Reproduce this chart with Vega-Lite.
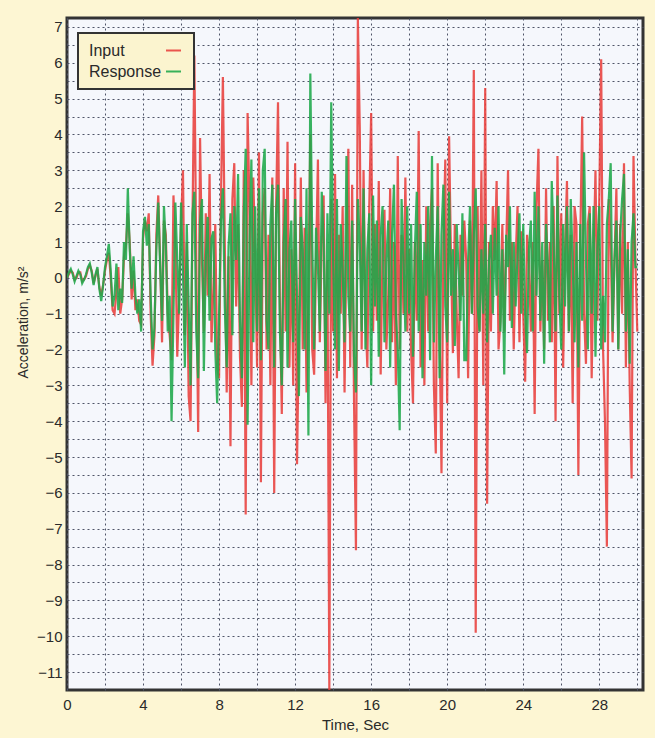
{
 "$schema": "https://vega.github.io/schema/vega-lite/v6.json",
 "width": 576,
 "height": 672,
 "autosize": {"type": "none"},
 "padding": {"left": 67, "top": 18, "right": 12, "bottom": 48},
 "background": "#fdf6d3",
 "config": {"view": {"fill": "#f5f7fc", "stroke": "#333333", "strokeWidth": 3}, "font": "Liberation Sans", "legend": {"strokeWidth": 2}},
 "data": {"values": [
{"t":0.0,"Input":0,"Response":0},{"t":0.1,"Input":0.1,"Response":0.15},{"t":0.2,"Input":0.2,"Response":0.25},{"t":0.3,"Input":0.15,"Response":0.1},{"t":0.4,"Input":-0.05,"Response":-0.1},{"t":0.5,"Input":0,"Response":0.05},{"t":0.6,"Input":0.15,"Response":0.2},{"t":0.7,"Input":0.15,"Response":0.1},{"t":0.8,"Input":-0.1,"Response":-0.15},{"t":0.9,"Input":-0.05,"Response":-0.05},
{"t":1.0,"Input":0.05,"Response":0.1},{"t":1.1,"Input":0.25,"Response":0.3},{"t":1.2,"Input":0.35,"Response":0.4},{"t":1.3,"Input":0.2,"Response":0.15},{"t":1.4,"Input":-0.15,"Response":-0.2},{"t":1.5,"Input":0.05,"Response":0.1},{"t":1.6,"Input":0.25,"Response":0.3},{"t":1.7,"Input":-0.25,"Response":-0.3},{"t":1.8,"Input":-0.5,"Response":-0.65},{"t":1.9,"Input":-0.2,"Response":-0.2},
{"t":2.0,"Input":0.2,"Response":0.3},{"t":2.1,"Input":0.5,"Response":0.6},{"t":2.2,"Input":0.7,"Response":0.95},{"t":2.3,"Input":0,"Response":0.2},{"t":2.4,"Input":-0.9,"Response":-0.8},{"t":2.5,"Input":-1.0,"Response":-0.5},{"t":2.6,"Input":-0.4,"Response":0.4},{"t":2.7,"Input":0.3,"Response":-0.9},{"t":2.8,"Input":-1.0,"Response":-0.3},{"t":2.9,"Input":-0.6,"Response":-0.7},
{"t":3.0,"Input":0.6,"Response":1.0},{"t":3.1,"Input":0.9,"Response":0.5},{"t":3.2,"Input":1.8,"Response":2.5},{"t":3.3,"Input":1.0,"Response":0.8},{"t":3.4,"Input":-0.6,"Response":-0.3},{"t":3.5,"Input":0.2,"Response":0.6},{"t":3.6,"Input":-0.9,"Response":-0.5},{"t":3.7,"Input":-0.6,"Response":-1.0},{"t":3.8,"Input":-1.2,"Response":-0.6},{"t":3.9,"Input":-1.3,"Response":-1.5},
{"t":4.0,"Input":1.1,"Response":1.3},{"t":4.1,"Input":1.6,"Response":1.7},{"t":4.2,"Input":1.3,"Response":0.9},{"t":4.3,"Input":1.8,"Response":1.5},{"t":4.4,"Input":-1.0,"Response":-0.5},{"t":4.5,"Input":-2.45,"Response":-2.0},{"t":4.6,"Input":-1.6,"Response":-1.4},{"t":4.7,"Input":1.2,"Response":0.8},{"t":4.8,"Input":2.3,"Response":2.1},{"t":4.9,"Input":0.5,"Response":0.3},
{"t":5.0,"Input":-1.8,"Response":-1.2},{"t":5.1,"Input":1.6,"Response":2.0},{"t":5.2,"Input":1.2,"Response":0.9},{"t":5.3,"Input":-1.0,"Response":-1.5},{"t":5.4,"Input":-1.6,"Response":-0.5},{"t":5.5,"Input":-2.3,"Response":-4.0},{"t":5.6,"Input":2.3,"Response":-1.0},{"t":5.7,"Input":1.0,"Response":2.1},{"t":5.8,"Input":-2.2,"Response":0.5},{"t":5.9,"Input":-0.5,"Response":-1.0},
{"t":6.0,"Input":1.5,"Response":2.1},{"t":6.1,"Input":3.0,"Response":0.2},{"t":6.2,"Input":-1.6,"Response":-2.5},{"t":6.3,"Input":1.0,"Response":1.5},{"t":6.4,"Input":-3.3,"Response":-0.8},{"t":6.5,"Input":-4.0,"Response":-3.0},{"t":6.6,"Input":1.5,"Response":1.8},{"t":6.7,"Input":6.2,"Response":2.4},{"t":6.8,"Input":0.5,"Response":-1.5},{"t":6.9,"Input":-4.3,"Response":-2.8},
{"t":7.0,"Input":3.9,"Response":1.6},{"t":7.1,"Input":0.5,"Response":2.2},{"t":7.2,"Input":-1.5,"Response":-2.6},{"t":7.3,"Input":1.8,"Response":0.5},{"t":7.4,"Input":-0.5,"Response":1.7},{"t":7.5,"Input":2.9,"Response":-1.2},{"t":7.6,"Input":-1.8,"Response":1.1},{"t":7.7,"Input":-0.3,"Response":1.3},{"t":7.8,"Input":1.5,"Response":-2.0},{"t":7.9,"Input":-2.5,"Response":-3.5},
{"t":8.0,"Input":-2.8,"Response":-1.0},{"t":8.1,"Input":2.2,"Response":1.6},{"t":8.2,"Input":5.6,"Response":2.5},{"t":8.3,"Input":1.0,"Response":-0.8},{"t":8.4,"Input":-3.2,"Response":-2.5},{"t":8.5,"Input":0.6,"Response":0.9},{"t":8.6,"Input":-4.7,"Response":1.8},{"t":8.7,"Input":2.2,"Response":-1.6},{"t":8.8,"Input":3.2,"Response":2.0},{"t":8.9,"Input":-0.8,"Response":0.5},
{"t":9.0,"Input":1.5,"Response":2.9},{"t":9.1,"Input":-2.2,"Response":-1.2},{"t":9.2,"Input":-3.6,"Response":-2.8},{"t":9.3,"Input":3.0,"Response":1.8},{"t":9.4,"Input":-6.6,"Response":3.6},{"t":9.5,"Input":4.6,"Response":-4.1},{"t":9.6,"Input":2.0,"Response":1.0},{"t":9.7,"Input":-3.0,"Response":3.3},{"t":9.8,"Input":2.8,"Response":-1.8},{"t":9.9,"Input":0.5,"Response":2.0},
{"t":10.0,"Input":-2.5,"Response":-1.5},{"t":10.1,"Input":3.5,"Response":2.5},{"t":10.2,"Input":-5.7,"Response":-2.3},{"t":10.3,"Input":1.8,"Response":3.0},{"t":10.4,"Input":2.5,"Response":3.6},{"t":10.5,"Input":-2.0,"Response":-1.2},{"t":10.6,"Input":1.2,"Response":-2.0},{"t":10.7,"Input":-3.0,"Response":1.5},{"t":10.8,"Input":2.8,"Response":2.6},{"t":10.9,"Input":-6.0,"Response":-2.5},
{"t":11.0,"Input":2.0,"Response":1.8},{"t":11.1,"Input":4.9,"Response":2.6},{"t":11.2,"Input":-0.8,"Response":-1.5},{"t":11.3,"Input":-3.8,"Response":-3.0},{"t":11.4,"Input":2.5,"Response":1.0},{"t":11.5,"Input":-1.5,"Response":2.2},{"t":11.6,"Input":3.8,"Response":-2.5},{"t":11.7,"Input":-2.5,"Response":0.8},{"t":11.8,"Input":0.8,"Response":1.6},{"t":11.9,"Input":-3.0,"Response":-1.8},
{"t":12.0,"Input":3.2,"Response":2.2},{"t":12.1,"Input":-5.2,"Response":-0.5},{"t":12.2,"Input":-1.5,"Response":-3.3},{"t":12.3,"Input":2.8,"Response":1.7},{"t":12.4,"Input":-2.0,"Response":0.8},{"t":12.5,"Input":1.4,"Response":-2.0},{"t":12.6,"Input":-3.2,"Response":2.5},{"t":12.7,"Input":-0.5,"Response":-4.4},{"t":12.8,"Input":4.0,"Response":5.7},{"t":12.9,"Input":-2.0,"Response":1.0},
{"t":13.0,"Input":-2.7,"Response":-2.0},{"t":13.1,"Input":0.5,"Response":1.4},{"t":13.2,"Input":3.3,"Response":0.3},{"t":13.3,"Input":-1.8,"Response":-1.5},{"t":13.4,"Input":1.0,"Response":2.4},{"t":13.5,"Input":2.3,"Response":1.0},{"t":13.6,"Input":-3.5,"Response":-2.6},{"t":13.7,"Input":0.5,"Response":1.8},{"t":13.8,"Input":-11.5,"Response":-1.0},{"t":13.9,"Input":2.2,"Response":4.9},
{"t":14.0,"Input":-1.5,"Response":0.5},{"t":14.1,"Input":2.9,"Response":-2.0},{"t":14.2,"Input":-2.8,"Response":2.2},{"t":14.3,"Input":1.2,"Response":-2.6},{"t":14.4,"Input":-1.0,"Response":1.5},{"t":14.5,"Input":2.0,"Response":0.2},{"t":14.6,"Input":-3.2,"Response":-1.8},{"t":14.7,"Input":1.0,"Response":3.4},{"t":14.8,"Input":3.6,"Response":-0.5},{"t":14.9,"Input":-2.5,"Response":-1.5},
{"t":15.0,"Input":2.6,"Response":1.6},{"t":15.1,"Input":-3.5,"Response":-2.2},{"t":15.2,"Input":-7.6,"Response":-3.2},{"t":15.3,"Input":7.25,"Response":2.2},{"t":15.4,"Input":4.2,"Response":1.0},{"t":15.5,"Input":-2.0,"Response":-1.5},{"t":15.6,"Input":3.0,"Response":2.5},{"t":15.7,"Input":-1.0,"Response":-2.0},{"t":15.8,"Input":-2.5,"Response":0.8},{"t":15.9,"Input":2.0,"Response":1.8},
{"t":16.0,"Input":4.6,"Response":-3.0},{"t":16.1,"Input":-1.5,"Response":2.3},{"t":16.2,"Input":1.5,"Response":-0.8},{"t":16.3,"Input":-1.2,"Response":1.6},{"t":16.4,"Input":2.7,"Response":-2.2},{"t":16.5,"Input":-2.7,"Response":1.2},{"t":16.6,"Input":0.8,"Response":2.0},{"t":16.7,"Input":1.9,"Response":-1.8},{"t":16.8,"Input":-2.0,"Response":0.5},{"t":16.9,"Input":-0.5,"Response":1.6},
{"t":17.0,"Input":2.5,"Response":-2.5},{"t":17.1,"Input":-1.8,"Response":1.2},{"t":17.2,"Input":1.0,"Response":2.6},{"t":17.3,"Input":-3.0,"Response":-1.0},{"t":17.4,"Input":3.4,"Response":-2.0},{"t":17.5,"Input":-2.0,"Response":-4.25},{"t":17.6,"Input":1.2,"Response":2.2},{"t":17.7,"Input":-1.0,"Response":0.6},{"t":17.8,"Input":2.8,"Response":-1.5},{"t":17.9,"Input":-1.5,"Response":2.0},
{"t":18.0,"Input":0.8,"Response":-1.0},{"t":18.1,"Input":-2.0,"Response":1.5},{"t":18.2,"Input":-3.5,"Response":-2.2},{"t":18.3,"Input":1.0,"Response":0.8},{"t":18.4,"Input":-1.2,"Response":2.4},{"t":18.5,"Input":4.1,"Response":-1.5},{"t":18.6,"Input":-2.5,"Response":1.5},{"t":18.7,"Input":0.5,"Response":-2.8},{"t":18.8,"Input":-3.0,"Response":1.0},{"t":18.9,"Input":2.0,"Response":-0.5},
{"t":19.0,"Input":-1.5,"Response":2.0},{"t":19.1,"Input":1.5,"Response":-2.3},{"t":19.2,"Input":2.5,"Response":3.4},{"t":19.3,"Input":-3.0,"Response":-1.8},{"t":19.4,"Input":-4.9,"Response":0.5},{"t":19.5,"Input":3.2,"Response":2.0},{"t":19.6,"Input":-1.5,"Response":-2.8},{"t":19.7,"Input":-5.45,"Response":1.2},{"t":19.8,"Input":1.0,"Response":2.6},{"t":19.9,"Input":3.3,"Response":-0.8},
{"t":20.0,"Input":-3.5,"Response":-1.8},{"t":20.1,"Input":3.95,"Response":2.4},{"t":20.2,"Input":0.5,"Response":-0.5},{"t":20.3,"Input":-2.1,"Response":0.8},{"t":20.4,"Input":1.5,"Response":-1.9},{"t":20.5,"Input":-1.0,"Response":1.5},{"t":20.6,"Input":-2.8,"Response":0.2},{"t":20.7,"Input":1.2,"Response":-1.2},{"t":20.8,"Input":-0.5,"Response":1.8},{"t":20.9,"Input":1.6,"Response":-2.3},
{"t":21.0,"Input":0.5,"Response":-2.3},{"t":21.1,"Input":-2.8,"Response":0.5},{"t":21.2,"Input":1.6,"Response":2.0},{"t":21.3,"Input":-1.0,"Response":-1.0},{"t":21.4,"Input":5.8,"Response":1.2},{"t":21.5,"Input":-9.9,"Response":2.5},{"t":21.6,"Input":2.0,"Response":-0.8},{"t":21.7,"Input":-1.5,"Response":-1.5},{"t":21.8,"Input":3.0,"Response":0.8},{"t":21.9,"Input":-3.0,"Response":-1.0},
{"t":22.0,"Input":5.3,"Response":1.5},{"t":22.1,"Input":-6.3,"Response":-1.8},{"t":22.2,"Input":1.0,"Response":0.5},{"t":22.3,"Input":-1.5,"Response":1.2},{"t":22.4,"Input":2.0,"Response":-1.0},{"t":22.5,"Input":0.5,"Response":1.4},{"t":22.6,"Input":2.7,"Response":-0.5},{"t":22.7,"Input":-2.0,"Response":2.0},{"t":22.8,"Input":-1.2,"Response":-1.5},{"t":22.9,"Input":1.5,"Response":0.8},
{"t":23.0,"Input":-1.5,"Response":-2.7},{"t":23.1,"Input":0.8,"Response":1.2},{"t":23.2,"Input":3.0,"Response":0.3},{"t":23.3,"Input":-1.2,"Response":2.0},{"t":23.4,"Input":1.0,"Response":-1.4},{"t":23.5,"Input":-2.0,"Response":1.0},{"t":23.6,"Input":0.5,"Response":-0.8},{"t":23.7,"Input":2.0,"Response":0.6},{"t":23.8,"Input":-1.8,"Response":1.8},{"t":23.9,"Input":1.3,"Response":-1.0},
{"t":24.0,"Input":-1.0,"Response":1.5},{"t":24.1,"Input":-2.9,"Response":-1.0},{"t":24.2,"Input":1.2,"Response":-2.1},{"t":24.3,"Input":0.5,"Response":0.8},{"t":24.4,"Input":-1.5,"Response":1.6},{"t":24.5,"Input":1.0,"Response":-1.5},{"t":24.6,"Input":-3.8,"Response":2.4},{"t":24.7,"Input":2.0,"Response":-0.5},{"t":24.8,"Input":3.6,"Response":2.0},{"t":24.9,"Input":-1.5,"Response":-1.2},
{"t":25.0,"Input":0.5,"Response":1.0},{"t":25.1,"Input":-2.0,"Response":-2.4},{"t":25.2,"Input":2.5,"Response":1.5},{"t":25.3,"Input":-1.2,"Response":0.3},{"t":25.4,"Input":1.0,"Response":-1.8},{"t":25.5,"Input":-1.8,"Response":2.7},{"t":25.6,"Input":2.0,"Response":1.0},{"t":25.7,"Input":-4.0,"Response":-1.5},{"t":25.8,"Input":3.4,"Response":2.3},{"t":25.9,"Input":-1.0,"Response":-0.5},
{"t":26.0,"Input":1.8,"Response":-2.0},{"t":26.1,"Input":-2.5,"Response":1.5},{"t":26.2,"Input":0.8,"Response":-0.8},{"t":26.3,"Input":2.7,"Response":2.0},{"t":26.4,"Input":-1.5,"Response":-1.5},{"t":26.5,"Input":1.2,"Response":2.2},{"t":26.6,"Input":-3.5,"Response":0.5},{"t":26.7,"Input":2.0,"Response":-1.8},{"t":26.8,"Input":1.5,"Response":1.0},{"t":26.9,"Input":-5.5,"Response":-2.5},
{"t":27.0,"Input":1.0,"Response":1.5},{"t":27.1,"Input":4.5,"Response":-1.2},{"t":27.2,"Input":-1.0,"Response":3.5},{"t":27.3,"Input":-2.4,"Response":0.5},{"t":27.4,"Input":1.5,"Response":-2.0},{"t":27.5,"Input":2.0,"Response":1.8},{"t":27.6,"Input":-2.8,"Response":-1.0},{"t":27.7,"Input":0.5,"Response":2.0},{"t":27.8,"Input":3.0,"Response":-2.2},{"t":27.9,"Input":-1.2,"Response":0.8},
{"t":28.0,"Input":2.2,"Response":2.0},{"t":28.1,"Input":6.1,"Response":-2.0},{"t":28.2,"Input":-2.0,"Response":-0.5},{"t":28.3,"Input":-4.0,"Response":-1.8},{"t":28.4,"Input":-7.5,"Response":1.5},{"t":28.5,"Input":2.2,"Response":2.2},{"t":28.6,"Input":1.0,"Response":3.2},{"t":28.7,"Input":-1.8,"Response":-1.5},{"t":28.8,"Input":0.5,"Response":0.5},{"t":28.9,"Input":2.5,"Response":1.6},
{"t":29.0,"Input":-2.0,"Response":-2.0},{"t":29.1,"Input":1.5,"Response":1.2},{"t":29.2,"Input":-1.0,"Response":2.2},{"t":29.3,"Input":3.2,"Response":2.9},{"t":29.4,"Input":-2.5,"Response":-1.5},{"t":29.5,"Input":1.0,"Response":0.8},{"t":29.6,"Input":-3.0,"Response":-2.4},{"t":29.7,"Input":-5.6,"Response":1.0},{"t":29.8,"Input":3.4,"Response":1.8},{"t":29.9,"Input":0.5,"Response":0.3},
{"t":30.0,"Input":-1.5,"Response":0.3}
 ]},
 "transform": [{"fold": ["Input", "Response"], "as": ["series", "value"]}],
 "mark": {"type": "line", "strokeWidth": 2.2, "opacity": 0.88, "clip": true},
 "encoding": {
  "x": {"field": "t", "type": "quantitative",
   "scale": {"domain": [0, 30.3], "nice": false, "zero": false},
   "axis": {"values": [0,2,4,6,8,10,12,14,16,18,20,22,24,26,28,30],
    "labelExpr": "datum.value % 4 === 0 ? datum.label : ''",
    "title": "Time, Sec", "grid": true, "gridColor": "#4f5468", "gridDash": [2, 3], "gridWidth": 1,
    "domain": false, "ticks": false, "labelFlush": false, "labelFontSize": 15, "labelColor": "#2a2a2a", "labelPadding": 7,
    "titleFontSize": 15, "titleFontWeight": "normal", "titleColor": "#2a2a2a", "titlePadding": 5}},
  "y": {"field": "value", "type": "quantitative",
   "scale": {"domain": [-11.5, 7.25], "nice": false, "zero": false},
   "axis": {"values": [-11,-10.5,-10,-9.5,-9,-8.5,-8,-7.5,-7,-6.5,-6,-5.5,-5,-4.5,-4,-3.5,-3,-2.5,-2,-1.5,-1,-0.5,0,0.5,1,1.5,2,2.5,3,3.5,4,4.5,5,5.5,6,6.5,7],
    "format": ".0f",
    "labelExpr": "datum.value % 1 === 0 ? datum.label : ''",
    "title": "Acceleration, m/s²", "grid": true, "gridColor": "#4f5468", "gridDash": [2, 3], "gridWidth": 1,
    "domain": false, "ticks": false, "labelFontSize": 15, "labelColor": "#2a2a2a", "labelPadding": 5,
    "titleFontSize": 14, "titleFontWeight": "normal", "titleColor": "#2a2a2a", "titlePadding": 6, "titleY": 304}},
  "color": {"field": "series", "type": "nominal",
   "scale": {"domain": ["Input", "Response"], "range": ["#e8403c", "#1ea84a"]},
   "legend": {"orient": "none", "legendX": 11, "legendY": 15, "title": null,
    "fillColor": "#fbf4cf", "strokeColor": "#333333", "padding": 9,
    "labelFontSize": 16, "labelColor": "#2a2a2a", "symbolType": "stroke", "symbolSize": 225, "symbolStrokeWidth": 2,
    "symbolOffset": 78, "labelOffset": -93, "rowPadding": 4}}
 }
}
